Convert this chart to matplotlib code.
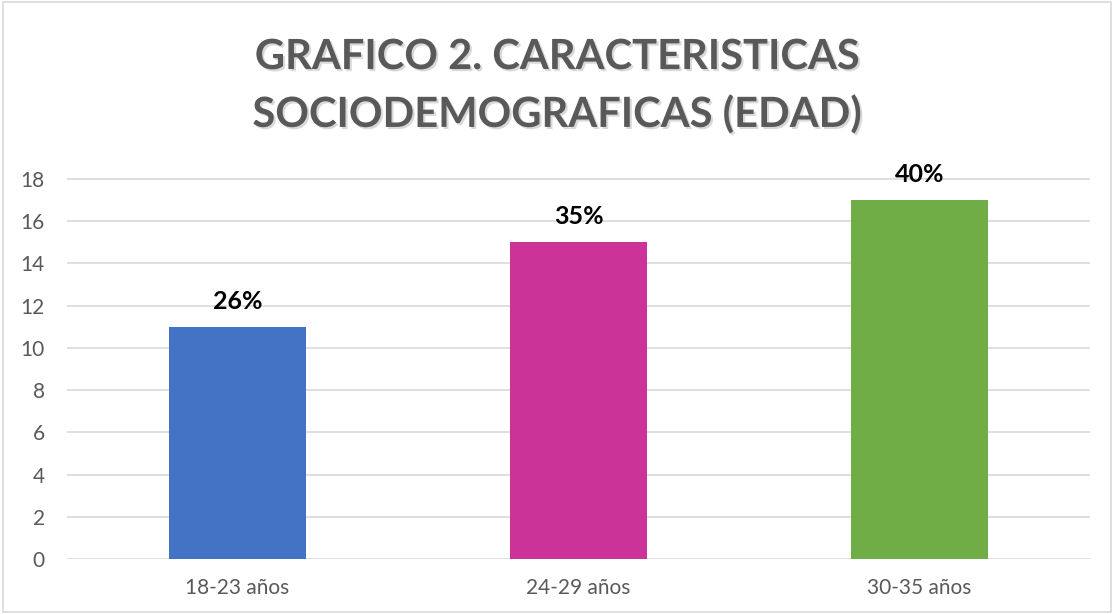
import matplotlib
matplotlib.use("Agg")
import matplotlib.pyplot as plt
import matplotlib.patheffects as pe
from matplotlib.patches import Rectangle

# data
categorias = ["18-23 años", "24-29 años", "30-35 años"]
valores = [11, 15, 17]
etiquetas = ["26%", "35%", "40%"]
colores = ["#4472C4", "#CC3399", "#70AD47"]

plt.rcParams['font.family'] = ['Lato', 'DejaVu Sans']

YMAX = 18.6
fig = plt.figure(figsize=(11.14, 6.14), dpi=100)
ax = fig.add_axes([67 / 1114, 1 - 559 / 614, (1090 - 67) / 1114, (559 - 179) / 614 * YMAX / 18])

x = range(len(categorias))
barras = ax.bar(x, valores, width=0.4, color=colores, zorder=3)

for b, txt in zip(barras, etiquetas):
    ax.annotate(txt, (b.get_x() + b.get_width() / 2, b.get_height()),
                xytext=(0, 10), textcoords="offset points",
                ha="center", va="bottom", fontsize=18, fontweight="bold", color="black")

ax.set_xlim(-0.5, 2.5)
ax.set_ylim(0, YMAX)
ax.set_yticks(range(0, 20, 2))
ax.set_xticks(list(x))
ax.set_xticklabels(categorias)
ax.grid(axis="y", color="#d9d9d9", linewidth=1.2, zorder=0)
for s in ax.spines.values():
    s.set_visible(False)
ax.tick_params(axis="both", length=0, labelsize=15, colors="#595959")
ax.tick_params(axis="y", pad=16)
ax.tick_params(axis="x", pad=14)

titulo = "GRAFICO 2. CARACTERISTICAS\nSOCIODEMOGRAFICAS (EDAD)"
fig.text(0.5, 1 - 86 / 614, titulo, ha="center", va="center", fontsize=30,
         fontweight="bold", color="#595959", linespacing=1.55,
         path_effects=[pe.withSimplePatchShadow(offset=(1.5, -1.5), shadow_rgbFace="#000000", alpha=0.15)])

# outer border
fig.patches.append(Rectangle((0.003, 0.003), 0.994, 0.994, transform=fig.transFigure,
                             fill=False, edgecolor="#d9d9d9", linewidth=1.2))

fig.savefig("out.png", dpi=100)
